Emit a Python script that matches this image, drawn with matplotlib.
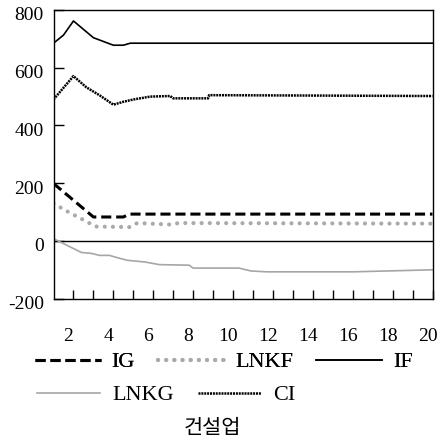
import numpy as np
import matplotlib
matplotlib.use("Agg")
import matplotlib.pyplot as plt
from matplotlib.transforms import ScaledTranslation

plt.rcParams['font.family'] = ['Liberation Serif', 'Noto Sans CJK KR', 'DejaVu Sans']

# series (x = period, y = value)
ig_x = [1, 3, 4.5, 4.8, 20]
ig_y = [199, 83, 83, 93, 93]

lnkf_x = [1, 1.75, 2.5, 3.1, 4.8, 5.2, 6.8, 7.3, 20]
lnkf_y = [130, 100, 73, 50, 48, 62, 57, 62, 60]

if_x = [1, 1.5, 2, 3, 4, 4.5, 4.85, 20]
if_y = [685, 713, 762, 704, 678, 678, 685, 685]

lnkg_x = [1, 2.4, 2.9, 3.3, 3.8, 4.2, 4.7, 5.6, 6.3, 7.8, 8, 10.3, 10.9, 11.7, 16, 20]
lnkg_y = [8, -40, -43, -50, -50, -58, -67, -73, -82, -84, -94, -94, -104, -107, -107, -100]

ci_x = [1, 2, 2.65, 3.3, 4, 4.5, 5, 5.85, 6.85, 7, 8.75, 8.8, 20]
ci_y = [490, 571, 532, 505, 472, 482, 490, 500, 502, 494, 494, 505, 502]

x_ticks = list(range(2, 21))
x_labels = [str(t) if t % 2 == 0 else '' for t in x_ticks]
y_ticks = [-200, 0, 200, 400, 600, 800]
y_labels = ['-200', '0', '200', '400', '600', '800']

fig = plt.figure(figsize=(4.43, 4.46), dpi=100)
ax = fig.add_axes([0.1208, 0.3303, 0.8555, 0.6473])

ax.axhline(0, color='black', lw=1.0, zorder=1)

l_ig, = ax.plot(ig_x, ig_y, color='black', lw=2.2, linestyle=(0, (3.3, 1.6)), label='IG')
l_lnkf, = ax.plot(lnkf_x, lnkf_y, color='#aaaaaa', lw=3.0, linestyle=(0, (0.01, 1.95)),
                  dash_capstyle='round', label='LNKF')
l_if, = ax.plot(if_x, if_y, color='black', lw=1.2, label='IF')
l_lnkg, = ax.plot(lnkg_x, lnkg_y, color='#a6a6a6', lw=1.2, label='LNKG')
l_ci, = ax.plot(ci_x, ci_y, color='black', lw=1.8, linestyle=(0, (0.8, 0.35)), label='CI')

ax.set_xlim(1, 20)
ax.set_ylim(-200, 800)
ax.set_xticks(x_ticks)
ax.set_xticklabels(x_labels, fontsize=14)
ax.set_yticks(y_ticks)
ax.set_yticklabels(y_labels, fontsize=14)
ax.tick_params(axis='x', direction='in', length=6.5, width=1, pad=21)
ax.tick_params(axis='y', direction='in', length=7, width=1, pad=7)
for lab in ax.get_xticklabels():
    lab.set_transform(lab.get_transform() + ScaledTranslation(-0.05, 0, fig.dpi_scale_trans))
for lab in ax.get_yticklabels():
    lab.set_transform(lab.get_transform() + ScaledTranslation(0, -0.04, fig.dpi_scale_trans))
for s in ax.spines.values():
    s.set_linewidth(1.0)
    s.set_color('black')

leg1 = fig.legend([l_ig, l_lnkf, l_if], ['IG', 'LNKF', 'IF'], loc='center left',
                  bbox_to_anchor=(35 / 443, 1 - 362 / 446), ncol=3, frameon=False,
                  fontsize=16, handlelength=2.95, handletextpad=0.5, columnspacing=1.05,
                  borderpad=0, borderaxespad=0)
leg2 = fig.legend([l_lnkg, l_ci], ['LNKG', 'CI'], loc='center left',
                  bbox_to_anchor=(37 / 443, 1 - 395 / 446), ncol=2, frameon=False,
                  fontsize=16, handlelength=2.85, handletextpad=0.55, columnspacing=1.05,
                  borderpad=0, borderaxespad=0)
fig.add_artist(leg1)

fig.text(212 / 443, 1 - 428 / 446, '건설업', ha='center', va='center', fontsize=15,
         family=['Noto Sans CJK KR'])

fig.savefig('out.png', dpi=100)
